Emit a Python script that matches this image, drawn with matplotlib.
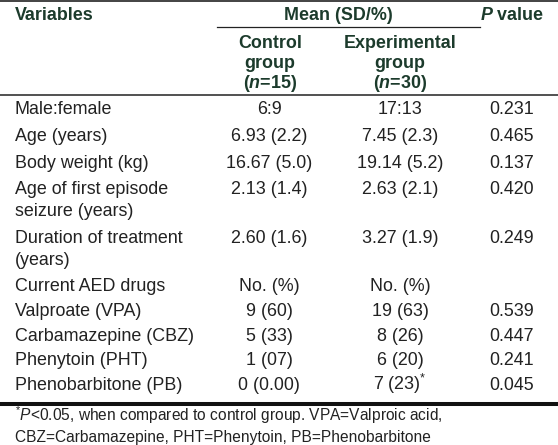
import matplotlib
matplotlib.use("Agg")
import matplotlib.pyplot as plt

plt.rcParams['font.family'] = ['Liberation Sans', 'DejaVu Sans']
plt.rcParams['mathtext.fontset'] = 'custom'
plt.rcParams['mathtext.rm'] = 'Liberation Sans'
plt.rcParams['mathtext.it'] = 'Liberation Sans:italic'
plt.rcParams['mathtext.bf'] = 'Liberation Sans:bold'
plt.rcParams['mathtext.bfit'] = 'Liberation Sans:italic:bold'

# table data
variables = ["Male:female", "Age (years)", "Body weight (kg)",
             "Age of first episode\nseizure (years)", "Duration of treatment\n(years)",
             "Current AED drugs", "Valproate (VPA)", "Carbamazepine (CBZ)",
             "Phenytoin (PHT)", "Phenobarbitone (PB)"]
control = ["6:9", "6.93 (2.2)", "16.67 (5.0)", "2.13 (1.4)", "2.60 (1.6)",
           "No. (%)", "9 (60)", "5 (33)", "1 (07)", "0 (0.00)"]
experimental = ["17:13", "7.45 (2.3)", "19.14 (5.2)", "2.63 (2.1)", "3.27 (1.9)",
                "No. (%)", "19 (63)", "8 (26)", "6 (20)", "7 (23)$^{*}$"]
p_values = ["0.231", "0.465", "0.137", "0.420", "0.249",
            "", "0.539", "0.447", "0.241", "0.045"]
footnote = [r"$^{*}\mathit{P}$<0.05, when compared to control group. VPA=Valproic acid,",
            "CBZ=Carbamazepine, PHT=Phenytoin, PB=Phenobarbitone"]

W, H = 558, 445
fig = plt.figure(figsize=(W / 100, H / 100), dpi=100)
ax = fig.add_axes([0, 0, 1, 1])
ax.set_xlim(0, W)
ax.set_ylim(H, 0)
ax.axis('off')

head_col = '#1c3b2c'
body_col = '#222222'
fs = 12.9
line_h = 22

# header
ax.text(15, 20, "Variables", fontsize=fs, fontweight='bold', color=head_col, va='baseline')
ax.text(338, 20, "Mean (SD/%)", fontsize=fs, fontweight='bold', color=head_col,
        va='baseline', ha='center')
ax.text(512, 20, r"$\mathbfit{P}$ value", fontsize=fs, fontweight='bold', color=head_col,
        va='baseline', ha='center')
for i, s in enumerate(["Control", "group", r"($\mathbfit{n}$=15)"]):
    ax.text(270, 48 + 20 * i, s, fontsize=fs, fontweight='bold', color=head_col,
            va='baseline', ha='center')
for i, s in enumerate(["Experimental", "group", r"($\mathbfit{n}$=30)"]):
    ax.text(400, 48 + 20 * i, s, fontsize=fs, fontweight='bold', color=head_col,
            va='baseline', ha='center')

# rules
ax.plot([0, W], [1, 1], color='#222222', lw=1.2)
ax.plot([217, 480], [27, 27], color='#222222', lw=0.9)
ax.plot([0, W], [95, 95], color='#222222', lw=1.1)
ax.plot([0, W], [404, 404], color='#111111', lw=2.9, solid_capstyle='butt')

# body rows
baselines = [114, 141, 168, 194, 243, 291, 316, 341, 365, 390]
for y, var, c, e, p in zip(baselines, variables, control, experimental, p_values):
    for k, part in enumerate(var.split("\n")):
        ax.text(15, y + k * line_h, part, fontsize=fs, color=body_col, va='baseline')
    ax.text(269, y, c, fontsize=fs, color=body_col, va='baseline', ha='center')
    ax.text(400, y, e, fontsize=fs, color=body_col, va='baseline', ha='center')
    ax.text(512, y, p, fontsize=fs, color=body_col, va='baseline', ha='center')

# footnote
for i, s in enumerate(footnote):
    ax.text(15, 421 + 21 * i, s, fontsize=11.2, color=body_col, va='baseline')

fig.savefig('out.png', dpi=100)
